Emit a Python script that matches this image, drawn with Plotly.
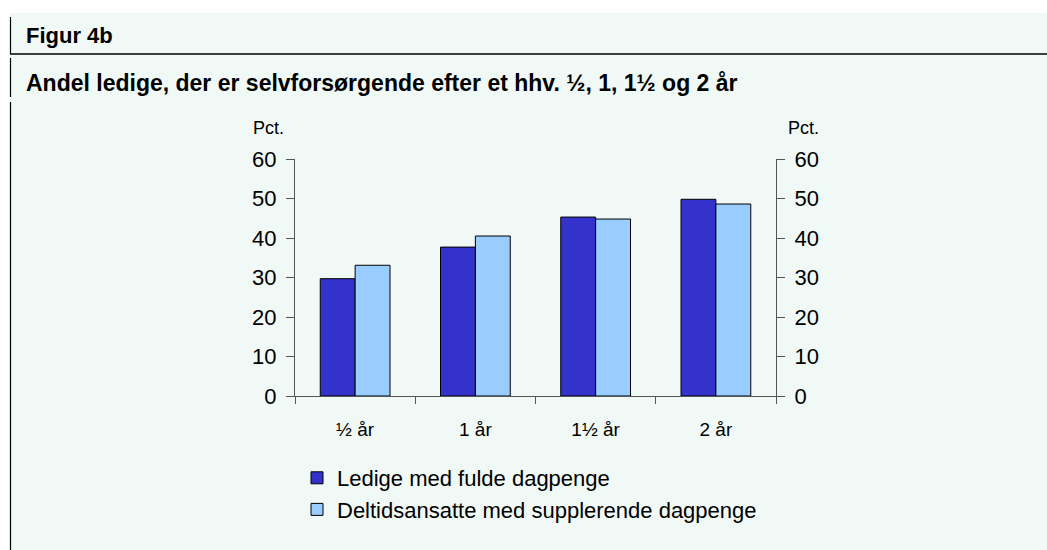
import plotly.graph_objects as go

categories = ["½ år", "1 år", "1½ år", "2 år"]
series_full = [29.7, 37.7, 45.3, 49.8]
series_supp = [33.1, 40.5, 44.8, 48.6]
series_names = ["Ledige med fulde dagpenge", "Deltidsansatte med supplerende dagpenge"]
y_ticks = [0, 10, 20, 30, 40, 50, 60]

W, H = 1047, 550
L, R, T, B = 295, 271, 159, 154
PW, PH = W - L - R, H - T - B

def px(x):
    return (x - L) / PW

def py(y):
    return (H - B - y) / PH

FONT = "Liberation Sans, Arial, sans-serif"
MINT = "#F1F9F6"

fig = go.Figure()
fig.add_trace(go.Bar(x=categories, y=series_full, name=series_names[0],
                     marker=dict(color="#3333CC", line=dict(color="black", width=1)),
                     legendgroup="a"))
fig.add_trace(go.Bar(x=categories, y=series_supp, name=series_names[1],
                     marker=dict(color="#99CCFF", line=dict(color="black", width=1)),
                     legendgroup="b"))
# invisible trace so that the right-hand axis is drawn
fig.add_trace(go.Scatter(x=categories, y=series_full, yaxis="y2", mode="markers",
                         marker=dict(opacity=0), showlegend=False, hoverinfo="skip"))

shapes = [
    dict(type="rect", xref="paper", yref="paper", x0=px(10), x1=px(W + 5), y0=py(H + 5), y1=py(13),
         fillcolor=MINT, line=dict(width=0), layer="below"),
    dict(type="line", xref="paper", yref="paper", x0=px(10), x1=px(W + 5), y0=py(54), y1=py(54),
         line=dict(color="black", width=1.5)),
]
for a, b in [(17, 54), (58, 97), (102, H + 5)]:
    shapes.append(dict(type="line", xref="paper", yref="paper", x0=px(10.5), x1=px(10.5),
                       y0=py(a), y1=py(b), line=dict(color="black", width=1.2)))

annotations = [
    dict(text="<b>Figur 4b</b>", x=px(24), y=py(36), xref="paper", yref="paper",
         xanchor="left", yanchor="middle", showarrow=False, font=dict(size=22, color="black", family=FONT)),
    dict(text="<b>Andel ledige, der er selvforsørgende efter et hhv. ½, 1, 1½ og 2 år</b>",
         x=px(24), y=py(83), xref="paper", yref="paper",
         xanchor="left", yanchor="middle", showarrow=False, font=dict(size=23, color="black", family=FONT)),
    dict(text="Pct.", x=px(268), y=py(128), xref="paper", yref="paper",
         xanchor="center", yanchor="middle", showarrow=False, font=dict(size=18, color="black", family=FONT)),
    dict(text="Pct.", x=px(803), y=py(128), xref="paper", yref="paper",
         xanchor="center", yanchor="middle", showarrow=False, font=dict(size=18, color="black", family=FONT)),
]

axis_line = "#555555"
fig.update_layout(
    width=W, height=H,
    margin=dict(l=L, r=R, t=T, b=B, autoexpand=False),
    paper_bgcolor="white",
    plot_bgcolor="rgba(0,0,0,0)",
    font=dict(family=FONT, color="black"),
    barmode="group", bargap=0.42, bargroupgap=0,
    showlegend=True,
    legend=dict(x=px(297), y=py(457), xanchor="left", yanchor="top",
                orientation="v", bgcolor="rgba(0,0,0,0)", font=dict(size=22, color="black", family=FONT),
                tracegroupgap=5, traceorder="normal"),
    xaxis=dict(type="category", tickson="boundaries", ticks="outside", ticklen=7, tickcolor=axis_line,
               tickwidth=1.2, showline=True, linecolor=axis_line, linewidth=1.2, showgrid=False,
               ticklabelstandoff=16,
               tickfont=dict(size=19, color="black", family=FONT), fixedrange=True),
    yaxis=dict(range=[0, 60], tickvals=y_ticks, ticks="outside", ticklen=8, tickcolor=axis_line,
               tickwidth=1.2, showline=True, linecolor=axis_line, linewidth=1.2, showgrid=False,
               ticklabelstandoff=5,
               zeroline=False, tickfont=dict(size=22, color="black", family=FONT)),
    yaxis2=dict(range=[0, 60], tickvals=y_ticks, overlaying="y", side="right", anchor="x",
                ticks="outside", ticklen=8, tickcolor=axis_line, tickwidth=1.2,
                ticklabelstandoff=5,
                showline=True, linecolor=axis_line, linewidth=1.2, showgrid=False, zeroline=False,
                tickfont=dict(size=22, color="black", family=FONT)),
    shapes=shapes,
    annotations=annotations,
)

fig.write_html("out.html", config={"displayModeBar": False},
               post_script="document.body.style.margin='0px';document.body.style.overflow='hidden';")
